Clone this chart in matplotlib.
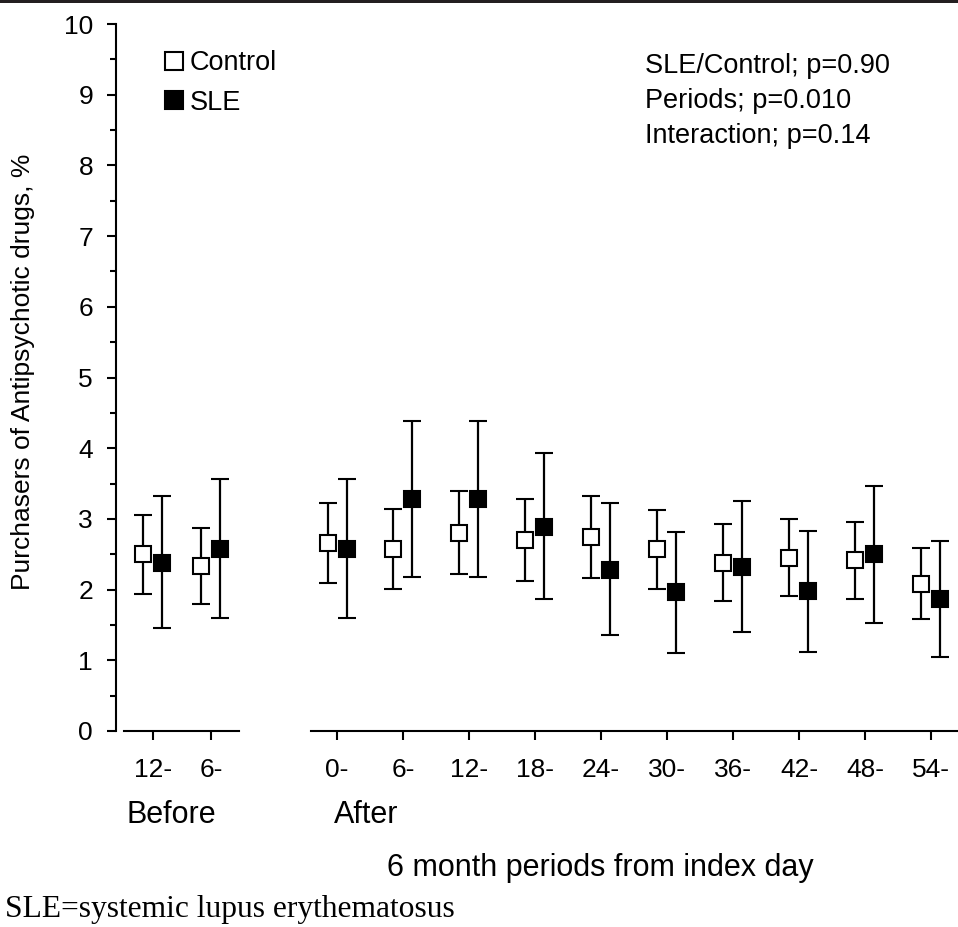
import matplotlib
matplotlib.use("Agg")
import matplotlib.pyplot as plt
from matplotlib.lines import Line2D
from matplotlib.patches import Rectangle
from matplotlib.transforms import ScaledTranslation

plt.rcParams['font.family'] = ['Liberation Sans', 'DejaVu Sans']

# ---------------- data ----------------
before_labels = ["12-", "6-"]
after_labels = ["0-", "6-", "12-", "18-", "24-", "30-", "36-", "42-", "48-", "54-"]

ctrl_before = [2.50, 2.33]
ctrl_before_lo = [1.94, 1.79]
ctrl_before_hi = [3.05, 2.87]
sle_before = [2.38, 2.58]
sle_before_lo = [1.45, 1.60]
sle_before_hi = [3.32, 3.57]

ctrl_after = [2.66, 2.57, 2.80, 2.70, 2.75, 2.57, 2.38, 2.45, 2.42, 2.08]
ctrl_after_lo = [2.09, 2.01, 2.22, 2.12, 2.17, 2.01, 1.84, 1.91, 1.87, 1.58]
ctrl_after_hi = [3.23, 3.14, 3.40, 3.28, 3.33, 3.13, 2.93, 3.00, 2.96, 2.59]
sle_after = [2.58, 3.28, 3.28, 2.89, 2.28, 1.96, 2.32, 1.98, 2.50, 1.86]
sle_after_lo = [1.60, 2.18, 2.18, 1.86, 1.36, 1.11, 1.40, 1.12, 1.53, 1.05]
sle_after_hi = [3.57, 4.38, 4.38, 3.93, 3.22, 2.82, 3.25, 2.83, 3.47, 2.69]

stats_lines = ["SLE/Control; p=0.90", "Periods; p=0.010", "Interaction; p=0.14"]
# --------------------------------------

W, H = 958, 927
fig = plt.figure(figsize=(W / 100, H / 100), dpi=100)

def fx(x):
    return x / W

def fy(y):
    return 1 - y / H

ax1 = fig.add_axes([fx(124), fy(731), 115 / W, 707 / H])
ax2 = fig.add_axes([fx(311), fy(731), 647 / W, 707 / H])

lw = 1.5
for ax in (ax1, ax2):
    ax.set_ylim(0, 10)
    ax.spines['top'].set_visible(False)
    ax.spines['right'].set_visible(False)
    ax.spines['bottom'].set_linewidth(lw)
    ax.spines['left'].set_linewidth(lw)
    ax.tick_params(axis='x', direction='out', length=6.5, width=lw, pad=13, labelsize=19)
    ax.patch.set_alpha(0)

ax1.spines['left'].set_position(('outward', 5.8))
ax1.set_yticks(range(0, 11))
ax1.set_yticks([i + 0.5 for i in range(10)], minor=True)
ax1.tick_params(axis='y', which='major', length=6.5, width=lw, pad=10, labelsize=19)
ax1.tick_params(axis='y', which='minor', length=4.3, width=lw)
ax2.spines['left'].set_visible(False)
ax2.tick_params(axis='y', which='both', left=False, labelleft=False)

xb = list(range(len(before_labels)))
xa = list(range(len(after_labels)))
ax1.set_xlim(-0.5, 1.483)
ax2.set_xlim(-0.394, 9.41)
ax1.set_xticks(xb)
ax1.set_xticklabels(before_labels)
ax2.set_xticks(xa)
ax2.set_xticklabels(after_labels)

off = 0.095  # inches
style = dict(fmt='s', ms=12, mec='black', mew=1.5, ecolor='black',
             elinewidth=1.6, capsize=6.5, capthick=1.6, clip_on=False)

def draw(ax, x, m, lo, hi, face, dx):
    tr = ax.transData + ScaledTranslation(dx, 0, fig.dpi_scale_trans)
    yerr = [[a - b for a, b in zip(m, lo)], [b - a for a, b in zip(m, hi)]]
    ax.errorbar(x, m, yerr=yerr, mfc=face, transform=tr, **style)

draw(ax1, xb, ctrl_before, ctrl_before_lo, ctrl_before_hi, 'white', -off)
draw(ax1, xb, sle_before, sle_before_lo, sle_before_hi, 'black', off)
draw(ax2, xa, ctrl_after, ctrl_after_lo, ctrl_after_hi, 'white', -off)
draw(ax2, xa, sle_after, sle_after_lo, sle_after_hi, 'black', off)

# legend
handles = [Line2D([], [], marker='s', ls='none', ms=12.5, mfc='white', mec='black', mew=1.5),
           Line2D([], [], marker='s', ls='none', ms=12.5, mfc='black', mec='black', mew=1.5)]
fig.legend(handles, ["Control", "SLE"], loc='upper left',
           bbox_to_anchor=(fx(165), fy(50)), frameon=False, fontsize=19.5,
           handlelength=0.7, handletextpad=0.2, borderpad=0, borderaxespad=0,
           labelspacing=0.5)

# stats text
for i, s in enumerate(stats_lines):
    fig.text(fx(645), fy(66 + 35 * i), s, ha='left', va='center', fontsize=19.5)

# axis labels
fig.text(fx(23), fy(372), "Purchasers of Antipsychotic drugs, %", rotation=90,
         ha='center', va='center', fontsize=19)
fig.text(fx(171), fy(815), "Before", ha='center', va='center', fontsize=22)
fig.text(fx(366), fy(815), "After", ha='center', va='center', fontsize=22)
fig.text(fx(600), fy(868), "6 month periods from index day", ha='center', va='center', fontsize=22)
fig.text(fx(5), fy(910), "SLE=systemic lupus erythematosus", ha='left', va='center',
         fontsize=22.7, family=['Liberation Serif', 'DejaVu Serif'])

# top rule
fig.patches.append(Rectangle((0, fy(3)), 1, 3 / H, transform=fig.transFigure,
                             facecolor='#231f20', edgecolor='none'))

fig.savefig("out.png", dpi=100)
